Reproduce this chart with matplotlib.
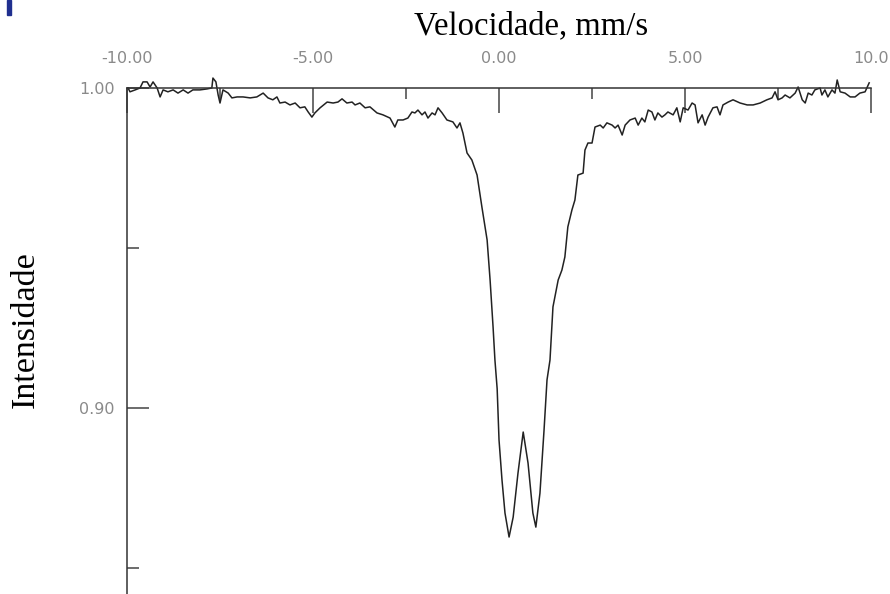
import matplotlib
matplotlib.use("Agg")
from matplotlib import pyplot as plt
from matplotlib.patches import Rectangle
import numpy as np

# Mossbauer spectrum, velocity (mm/s) vs relative intensity
velocity = [
    -9.97, -9.92, -9.78, -9.65, -9.57, -9.46, -9.38, -9.30, -9.19, -9.11,
    -9.03, -8.90, -8.76, -8.63, -8.49, -8.36, -8.23, -8.04, -7.85, -7.72,
    -7.69, -7.61, -7.55, -7.50, -7.42, -7.28, -7.18, -7.04, -6.88, -6.69,
    -6.51, -6.34, -6.21, -6.08, -5.97, -5.89, -5.75, -5.62, -5.48, -5.35,
    -5.22, -5.13, -5.03, -4.95, -4.81, -4.62, -4.46, -4.33, -4.22, -4.09,
    -3.95, -3.87, -3.74, -3.60, -3.47, -3.28, -3.12, -2.93, -2.80, -2.72,
    -2.58, -2.45, -2.34, -2.26, -2.18, -2.07, -1.99, -1.91, -1.80, -1.72,
    -1.64, -1.53, -1.40, -1.24, -1.13, -1.05, -0.97, -0.86, -0.73, -0.59,
    -0.46, -0.32, -0.24, -0.16, -0.11, -0.05, 0.00, 0.08, 0.16, 0.27, 0.38,
    0.51, 0.65, 0.78, 0.91, 0.99, 1.10, 1.21, 1.29, 1.37, 1.45,
    1.59, 1.69, 1.77, 1.85, 1.96, 2.04, 2.12, 2.26, 2.31, 2.39,
    2.50, 2.58, 2.72, 2.80, 2.90, 3.04, 3.12, 3.20, 3.31, 3.39,
    3.52, 3.66, 3.74, 3.84, 3.92, 4.01, 4.11, 4.19, 4.27, 4.38,
    4.46, 4.54, 4.68, 4.78, 4.87, 4.95, 5.08, 5.19, 5.27, 5.35,
    5.46, 5.54, 5.62, 5.75, 5.86, 5.94, 6.02, 6.16, 6.29, 6.48,
    6.67, 6.83, 7.02, 7.20, 7.34, 7.42, 7.50, 7.61, 7.69, 7.82,
    7.96, 8.04, 8.15, 8.23, 8.31, 8.41, 8.49, 8.63, 8.68, 8.76,
    8.84, 8.95, 9.03, 9.09, 9.17, 9.30, 9.44, 9.57, 9.70, 9.84,
    9.95,
]
intensity = [
    1.0000, 0.9988, 0.9994, 1.0000, 1.0019, 1.0019, 1.0003, 1.0019, 1.0000, 0.9972,
    0.9994, 0.9988, 0.9994, 0.9984, 0.9994, 0.9984, 0.9994, 0.9994, 0.9997, 1.0000,
    1.0031, 1.0019, 0.9978, 0.9953, 0.9994, 0.9984, 0.9969, 0.9972, 0.9972, 0.9969,
    0.9972, 0.9984, 0.9969, 0.9963, 0.9972, 0.9953, 0.9956, 0.9947, 0.9953, 0.9938,
    0.9941, 0.9925, 0.9909, 0.9922, 0.9938, 0.9956, 0.9953, 0.9956, 0.9966, 0.9953,
    0.9956, 0.9947, 0.9953, 0.9938, 0.9941, 0.9922, 0.9916, 0.9906, 0.9878, 0.9900,
    0.9900, 0.9906, 0.9925, 0.9922, 0.9931, 0.9916, 0.9925, 0.9906, 0.9922, 0.9916,
    0.9938, 0.9922, 0.9900, 0.9894, 0.9875, 0.9891, 0.9859, 0.9797, 0.9775, 0.9728,
    0.9628, 0.9525, 0.9400, 0.9253, 0.9150, 0.9060, 0.8900, 0.8775, 0.8672, 0.8597, 0.8659,
    0.8797, 0.8925, 0.8828, 0.8672, 0.8628, 0.8734, 0.8931, 0.9088, 0.9150, 0.9316,
    0.9400, 0.9431, 0.9472, 0.9566, 0.9619, 0.9650, 0.9728, 0.9734, 0.9806, 0.9828,
    0.9828, 0.9878, 0.9884, 0.9875, 0.9891, 0.9884, 0.9875, 0.9884, 0.9853, 0.9884,
    0.9900, 0.9906, 0.9884, 0.9906, 0.9894, 0.9931, 0.9925, 0.9900, 0.9922, 0.9909,
    0.9916, 0.9925, 0.9916, 0.9938, 0.9894, 0.9938, 0.9931, 0.9953, 0.9947, 0.9891,
    0.9916, 0.9884, 0.9909, 0.9938, 0.9941, 0.9916, 0.9947, 0.9956, 0.9963, 0.9953,
    0.9947, 0.9947, 0.9953, 0.9963, 0.9969, 0.9988, 0.9963, 0.9969, 0.9978, 0.9969,
    0.9984, 1.0003, 0.9963, 0.9953, 0.9984, 0.9978, 0.9994, 1.0000, 0.9978, 0.9994,
    0.9972, 0.9994, 0.9984, 1.0025, 0.9988, 0.9984, 0.9972, 0.9972, 0.9984, 0.9988,
    1.0016,
]

x_ticks = [-10, -5, 0, 5, 10]
x_ticklabels = ['-10.00', '-5.00', '0.00', '5.00', '10.0']
x_minor = [-7.5, -2.5, 2.5, 7.5]
y_ticks = [1.00, 0.90]
y_ticklabels = ['1.00', '0.90']
y_minor = [0.95, 0.85]

fig = plt.figure(figsize=(8.9, 5.94), dpi=100)
ax = fig.add_axes([0.1427, 0.0, 0.836, 0.8519])

ax.plot(velocity, intensity, color='#222222', lw=1.1, clip_on=False)

ax.set_xlim(-10, 10)
ax.set_ylim(0.8419, 1.0)

ax.spines['right'].set_visible(False)
ax.spines['bottom'].set_visible(False)
for s in ['top', 'left']:
    ax.spines[s].set_color('#333333')
    ax.spines[s].set_linewidth(1.1)

ax.xaxis.tick_top()
ax.set_xticks(x_ticks)
ax.set_xticklabels(x_ticklabels)
ax.set_xticks(x_minor, minor=True)
ax.set_yticks(y_ticks)
ax.set_yticklabels(y_ticklabels)
ax.set_yticks(y_minor, minor=True)

ax.tick_params(axis='x', which='major', direction='in', length=18, width=1.1,
               color='#444444', pad=16, labelsize=11.5, labelcolor='#8a8a8a')
ax.tick_params(axis='x', which='minor', direction='in', length=8, width=1.1,
               color='#444444')
ax.tick_params(axis='y', which='major', direction='in', length=16, width=1.1,
               color='#444444', pad=9, labelsize=11.5, labelcolor='#8a8a8a')
ax.tick_params(axis='y', which='minor', direction='in', length=8.5, width=1.1,
               color='#444444')

fig.text(531 / 890, 1 - 26 / 594, 'Velocidade, mm/s', family='Liberation Serif',
         fontsize=23.5, ha='center', va='center')
fig.text(26 / 890, 1 - 330 / 594, 'Intensidade', family='Liberation Serif',
         fontsize=24.5, ha='center', va='center', rotation=90)

# small blue mark in the top-left corner of the source image
fig.patches.append(Rectangle((7 / 890, 1 - 15 / 594), 4 / 890, 15 / 594,
                             transform=fig.transFigure, color='#1f2f8f'))

fig.savefig('out.png', dpi=100)
